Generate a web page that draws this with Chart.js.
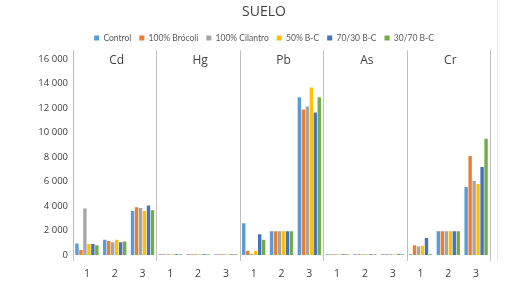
<!DOCTYPE html>
<html><head><meta charset="utf-8">
<script src="https://cdn.jsdelivr.net/npm/chart.js@4/dist/chart.umd.min.js"></script>
<style>html,body{margin:0;padding:0;background:#fff}canvas{display:block}</style>
</head><body>
<canvas id="c" width="528" height="288"></canvas>
<script>
// ---- data ----
const elements = ['Cd', 'Hg', 'Pb', 'As', 'Cr'];
const subLabels = ['1', '2', '3'];
const seriesNames = ['Control', '100% Brócoli', '100% Cilantro', '50% B-C', '70/30 B-C', '30/70 B-C'];
// values per series: Cd(1,2,3), Hg(1,2,3), Pb(1,2,3), As(1,2,3), Cr(1,2,3)
const control    = [950, 1250, 3600,  60, 60, 60,  2600, 1950, 12900,  60, 60, 60,  60, 1950, 5550];
const brocoli    = [400, 1150, 3900,  60, 60, 60,   350, 1950, 11900,  60, 60, 60, 800, 1950, 8100];
const cilantro   = [3800, 1050, 3850, 60, 60, 60,   100, 1950, 12150,  60, 60, 60, 700, 1950, 6050];
const bc50       = [900, 1250, 3600,  60, 60, 60,   350, 1950, 13700,  60, 60, 60, 750, 1950, 5800];
const bc7030     = [900, 1050, 4050,  60, 60, 60,  1700, 1950, 11650,  60, 60, 60, 1400, 1950, 7200];
const bc3070     = [800, 1100, 3650,  60, 60, 60,  1250, 1950, 12900,  60, 60, 60,  60, 1950, 9500];
const yTicks = [0, 2000, 4000, 6000, 8000, 10000, 12000, 14000, 16000];

const colors = ['#5b9bd5', '#ed7d31', '#a5a5a5', '#ffc000', '#4472c4', '#70ad47'];
const seriesValues = [control, brocoli, cilantro, bc50, bc7030, bc3070];

const labels = [];
elements.forEach(() => subLabels.forEach(s => labels.push(s)));

const fmt = v => String(v).replace(/\B(?=(\d{3})+(?!\d))/g, ' ');

const legendSpacer = {
  id: 'legendSpacer',
  afterInit(chart) {
    const lg = chart.legend;
    if (!lg) return;
    const orig = lg.fit;
    lg.fit = function () { orig.call(this); this.height += 7; };
  }
};

const panelPlugin = {
  id: 'panels',
  afterDatasetsDraw(chart) {
    const {ctx, chartArea} = chart;
    const w = (chartArea.right - chartArea.left) / elements.length;
    ctx.save();
    ctx.strokeStyle = '#bfbfbf';
    ctx.lineWidth = 1;
    for (let i = 0; i <= elements.length; i++) {
      const x = Math.round(chartArea.left + i * w) + 0.5;
      ctx.beginPath();
      ctx.moveTo(x, chartArea.top - 9);
      ctx.lineTo(x, chartArea.bottom + 6);
      ctx.stroke();
    }
    ctx.strokeStyle = '#e6e6e6';
    ctx.beginPath();
    ctx.moveTo(497.5, 0);
    ctx.lineTo(497.5, chartArea.bottom + 6);
    ctx.stroke();
    ctx.fillStyle = '#404040';
    ctx.font = '12px "Open Sans", sans-serif';
    ctx.textAlign = 'center';
    ctx.textBaseline = 'middle';
    elements.forEach((e, i) => {
      ctx.fillText(e, chartArea.left + (i + 0.5) * w + 2, chartArea.top + 1);
    });
    ctx.restore();
  }
};

new Chart(document.getElementById('c'), {
  type: 'bar',
  data: {
    labels,
    datasets: seriesNames.map((n, i) => ({
      label: n,
      data: seriesValues[i],
      backgroundColor: colors[i],
      borderWidth: 0,
      categoryPercentage: 0.86,
      barPercentage: 0.85
    }))
  },
  options: {
    responsive: false,
    animation: false,
    devicePixelRatio: 1,
    layout: {padding: {left: 38, right: 38, top: 0, bottom: 0}},
    plugins: {
      title: {
        display: true, text: 'SUELO', color: '#404040',
        font: {family: '"Open Sans", sans-serif', size: 14, weight: 'normal'},
        padding: {top: 4, bottom: 5}
      },
      legend: {
        display: true, position: 'top',
        labels: {
          boxWidth: 5, boxHeight: 5, padding: 8, color: '#595959',
          font: {family: 'Lato, sans-serif', size: 8.5}
        }
      },
      tooltip: {enabled: false}
    },
    scales: {
      x: {
        grid: {display: false, drawTicks: false},
        border: {display: false},
        ticks: {color: '#404040', padding: 13, font: {family: '"Open Sans", sans-serif', size: 10.5}, maxRotation: 0, autoSkip: false},
        afterFit(s) { s.height = 33; }
      },
      y: {
        min: 0, max: 16000,
        afterBuildTicks(s) { s.ticks = yTicks.map(v => ({value: v})); },
        grid: {display: false, drawTicks: false},
        border: {display: false},
        ticks: {color: '#404040', padding: 5, font: {family: '"Open Sans", sans-serif', size: 9.5}, callback: v => fmt(v)},
        afterFit(s) { s.width = 35; }
      }
    }
  },
  plugins: [legendSpacer, panelPlugin]
});
</script>
</body></html>
